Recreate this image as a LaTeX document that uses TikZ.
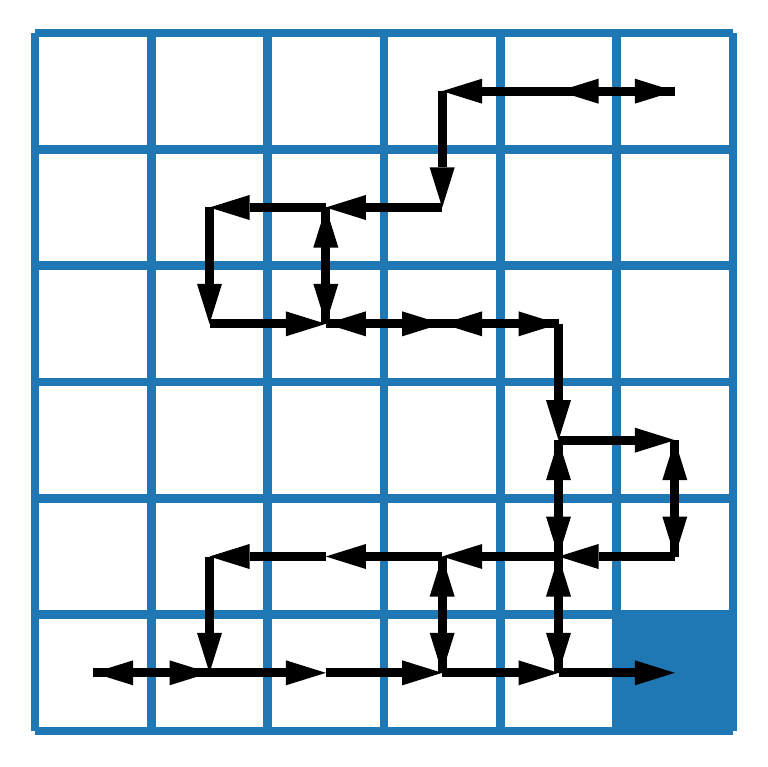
\documentclass[tikz,border=0pt]{standalone}
\usetikzlibrary{arrows.meta}
\definecolor{gridblue}{RGB}{31,119,180}
\begin{document}
\begin{tikzpicture}[x=1pt,y=-1pt,
  gridline/.style={draw=gridblue,line width=8.6pt},
  arr/.style={draw=black,line width=8.8pt,-{Triangle[length=40pt,width=25pt,line width=0pt]}}]
\useasboundingbox (0,0) rectangle (767,767);
% goal cell
\fill[gridblue] (616.33,614.67) rectangle (733,731);
% grid
\foreach \k in {0,...,6}{
  \draw[gridline] ({35+116.333*\k},33) -- ({35+116.333*\k},731);
  \draw[gridline] (35,{33+116.333*\k}) -- (733,{33+116.333*\k});
}
% cell centres
\foreach \i in {0,...,5}{
  \foreach \j in {0,...,5}{
    \coordinate (c\i\j) at ({35+116.333*(\i+0.5)},{33+116.333*(\j+0.5)});
  }
}
% path arrows
\draw[arr] (c40) -- (c30);
\draw[arr] (c50) -- (c40);
\draw[arr] (c40) -- (c50);
\draw[arr] (c30) -- (c31);
\draw[arr] (c21) -- (c11);
\draw[arr] (c31) -- (c21);
\draw[arr] (c22) -- (c21);
\draw[arr] (c21) -- (c22);
\draw[arr] (c11) -- (c12);
\draw[arr] (c12) -- (c22);
\draw[arr] (c32) -- (c22);
\draw[arr] (c22) -- (c32);
\draw[arr] (c42) -- (c32);
\draw[arr] (c32) -- (c42);
\draw[arr] (c42) -- (c43);
\draw[arr] (c43) -- (c53);
\draw[arr] (c54) -- (c53);
\draw[arr] (c53) -- (c54);
\draw[arr] (c44) -- (c43);
\draw[arr] (c43) -- (c44);
\draw[arr] (c54) -- (c44);
\draw[arr] (c44) -- (c34);
\draw[arr] (c34) -- (c24);
\draw[arr] (c24) -- (c14);
\draw[arr] (c14) -- (c15);
\draw[arr] (c35) -- (c34);
\draw[arr] (c34) -- (c35);
\draw[arr] (c45) -- (c44);
\draw[arr] (c44) -- (c45);
\draw[arr] (c15) -- (c05);
\draw[arr] (c05) -- (c15);
\draw[arr] (c15) -- (c25);
\draw[arr] (c25) -- (c35);
\draw[arr] (c35) -- (c45);
\draw[arr] (c45) -- (c55);
\end{tikzpicture}
\end{document}
